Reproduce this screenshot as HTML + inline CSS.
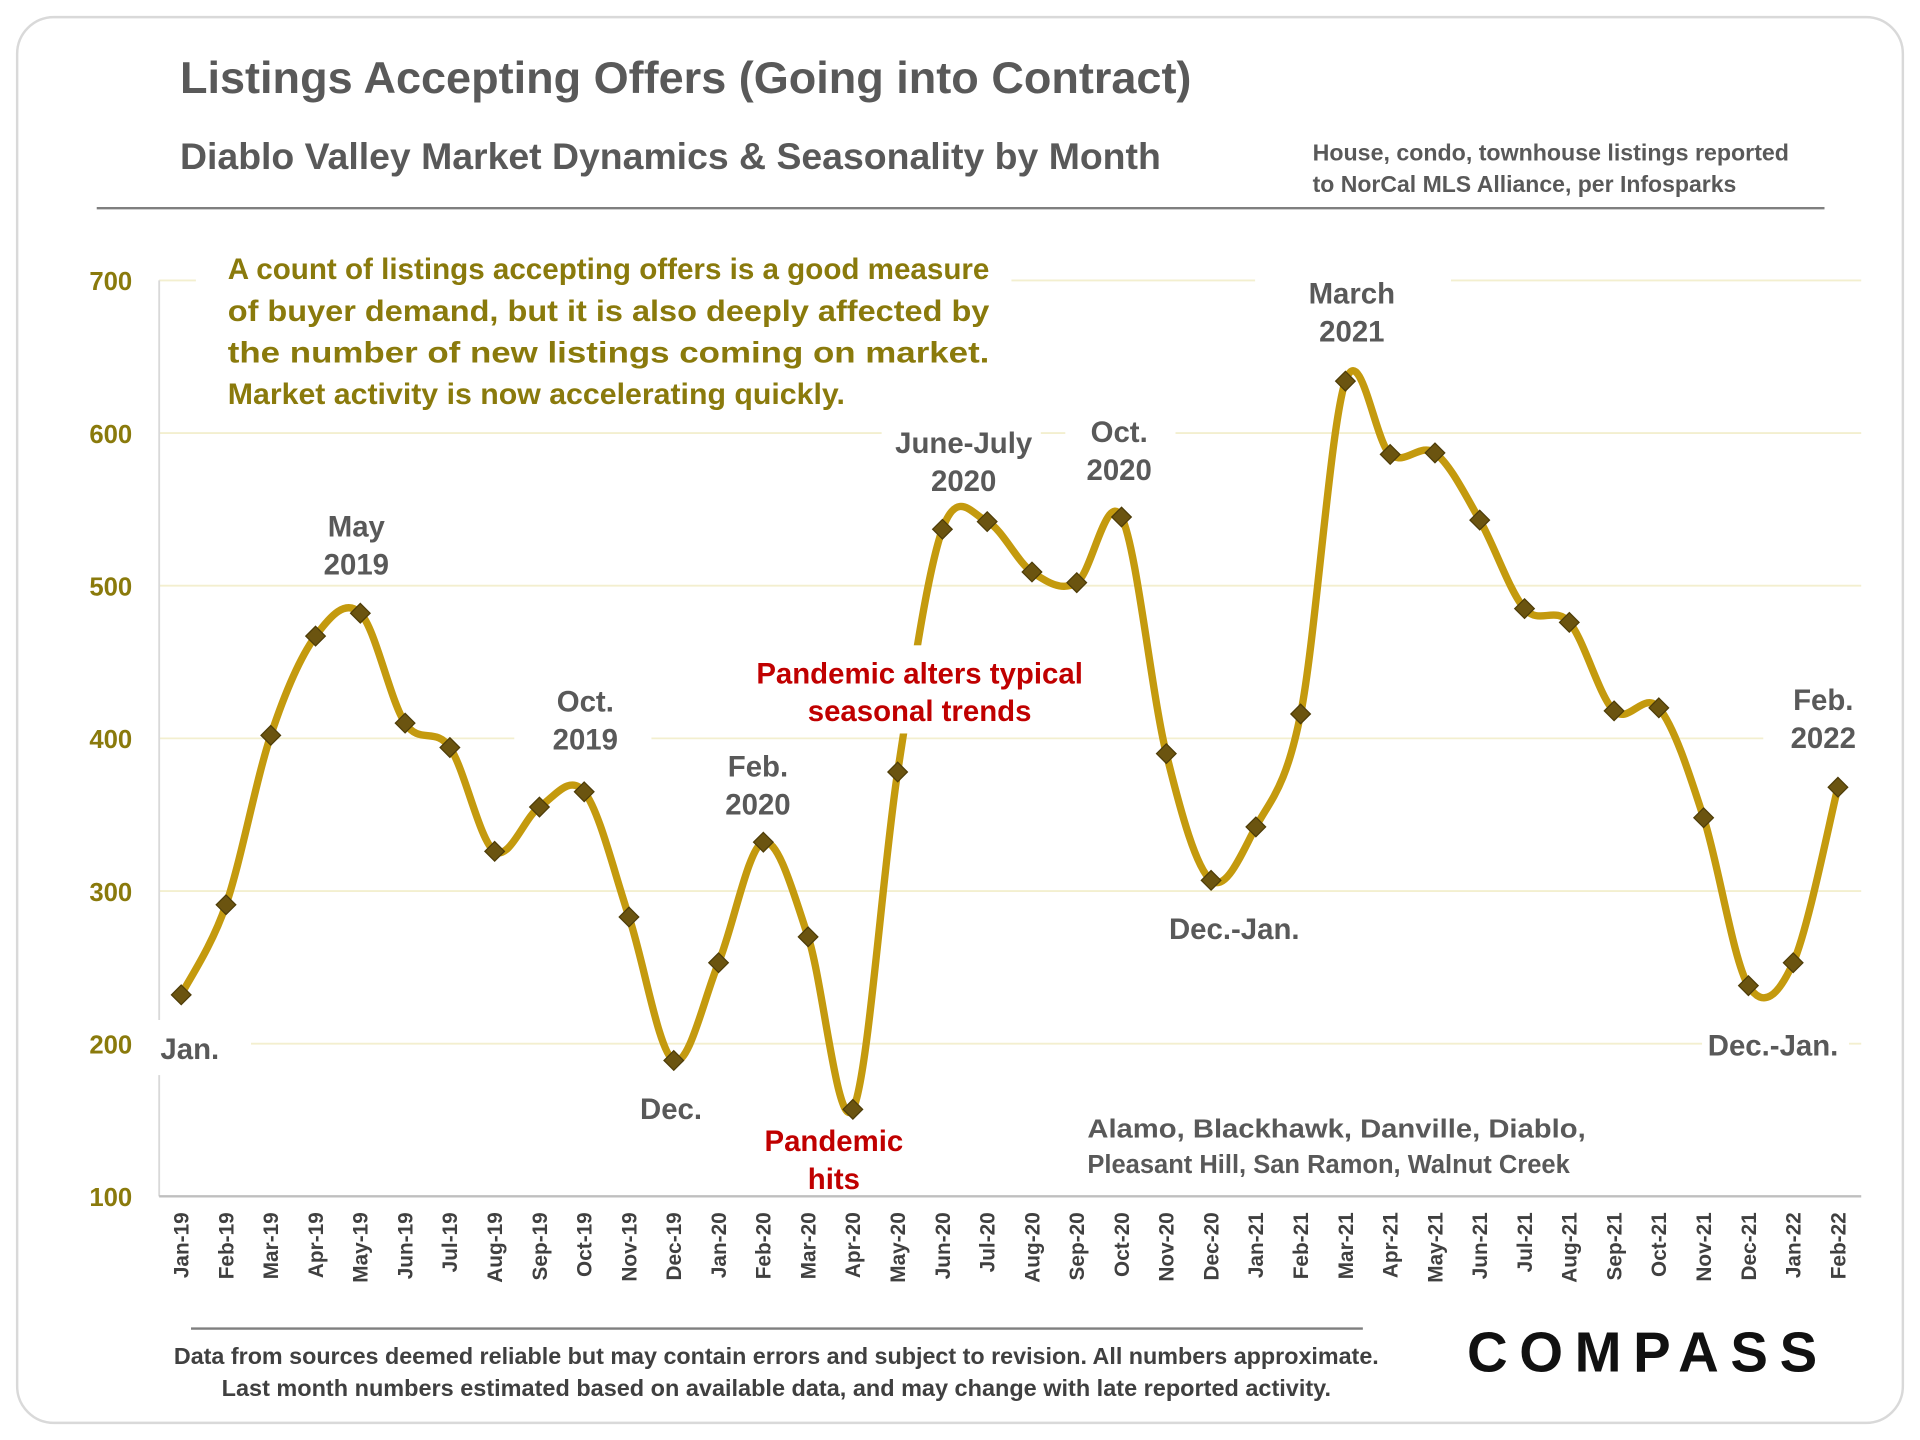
<!DOCTYPE html>
<html><head><meta charset="utf-8"><style>
html,body{margin:0;padding:0;background:#fff;}
svg{display:block;font-family:"Liberation Sans",sans-serif;font-weight:bold;}
</style></head><body>
<svg id="chart" width="1920" height="1440" viewBox="0 0 1568 1176" xmlns="http://www.w3.org/2000/svg">
<rect x="14" y="14" width="1540" height="1148" rx="30" fill="#fff" stroke="#d9d9d9" stroke-width="2"/>
<text x="147" y="76" font-size="36" fill="#595959" textLength="826" lengthAdjust="spacingAndGlyphs">Listings Accepting Offers (Going into Contract)</text>
<text x="147" y="138" font-size="30" fill="#595959" textLength="801" lengthAdjust="spacingAndGlyphs">Diablo Valley Market Dynamics &amp; Seasonality by Month</text>
<text x="1072" y="131" font-size="19" fill="#595959" textLength="389" lengthAdjust="spacingAndGlyphs">House, condo, townhouse listings reported</text>
<text x="1072" y="157" font-size="19" fill="#595959" textLength="346" lengthAdjust="spacingAndGlyphs">to NorCal MLS Alliance, per Infosparks</text>
<line x1="79" y1="170" x2="1490" y2="170" stroke="#7f7f7f" stroke-width="2"/>
<g id="grid"></g>
<g id="masks"></g>
<g id="series"></g>
<rect x="615" y="527" width="272" height="72" fill="#fff"/>
<g id="labels"></g>
<line x1="156" y1="1085" x2="1113" y2="1085" stroke="#7f7f7f" stroke-width="2"/>
<text x="634" y="1114" font-size="19" fill="#404040" text-anchor="middle" textLength="984" lengthAdjust="spacingAndGlyphs">Data from sources deemed reliable but may contain errors and subject to revision. All numbers approximate.</text>
<text x="634" y="1140" font-size="19" fill="#404040" text-anchor="middle" textLength="906" lengthAdjust="spacingAndGlyphs">Last month numbers estimated based on available data, and may change with late reported activity.</text>
<text x="1198" y="1120" font-size="46" fill="#111" font-weight="bold" textLength="286" lengthAdjust="spacing">COMPASS</text>
</svg>
<script>
const categories=["Jan-19","Feb-19","Mar-19","Apr-19","May-19","Jun-19","Jul-19","Aug-19","Sep-19","Oct-19","Nov-19","Dec-19","Jan-20","Feb-20","Mar-20","Apr-20","May-20","Jun-20","Jul-20","Aug-20","Sep-20","Oct-20","Nov-20","Dec-20","Jan-21","Feb-21","Mar-21","Apr-21","May-21","Jun-21","Jul-21","Aug-21","Sep-21","Oct-21","Nov-21","Dec-21","Jan-22","Feb-22"];
const values=[232,291,402,467,482,410,394,326,355,365,283,189,253,332,270,157,378,537,542,509,502,545,390,307,342,416,634,586,587,543,485,476,418,420,348,238,253,368];
const yTicks=[100,200,300,400,500,600,700];
const NS="http://www.w3.org/2000/svg";
const X0=148,X1=1501,Y0=977,Y1=229,VMIN=100,VMAX=700;
function xs(i){return X0+(X1-X0)*i/(categories.length-1);}
function ys(v){return Y0-(v-VMIN)/(VMAX-VMIN)*(Y0-Y1);}
function mk(tag,attrs,parent){const e=document.createElementNS(NS,tag);for(const k in attrs)e.setAttribute(k,attrs[k]);parent.appendChild(e);return e;}
const grid=document.getElementById('grid'),masks=document.getElementById('masks'),series=document.getElementById('series'),labels=document.getElementById('labels');
yTicks.forEach(t=>{
  if(t>VMIN){const l=mk('line',{x1:130,x2:1520,y1:ys(t),y2:ys(t),stroke:'#f3efcf','stroke-width':1.5},grid);
  
  }
  const tx=mk('text',{x:108,y:ys(t)+8,'font-size':21,fill:'#8a7a0c','text-anchor':'end'},grid);
  tx.textContent=t;
  
  
});
const ax=mk('line',{x1:130,y1:Y1,x2:130,y2:Y0,stroke:'#d9d9d9','stroke-width':1.5},grid);


const bx=mk('line',{x1:130,y1:Y0,x2:1520,y2:Y0,stroke:'#bfbfbf','stroke-width':2},grid);


categories.forEach((c,i)=>{
  const t=mk('text',{x:0,y:0,'font-size':17,fill:'#404040','text-anchor':'end',transform:`translate(${xs(i)+6},990) rotate(-90)`},grid);
  t.textContent=c;
  
  
});
[[160,205,666,130],[220,415,142,60],[420,560,112,60],[560,612,120,60],[720,345,130,60],[870,336,90,60],[1025,222,160,65],[1440,555,90,60],[125,833,80,45],[1390,840,120,35]].forEach(r=>{
  const m=mk('rect',{x:r[0],y:r[1],width:r[2],height:r[3],fill:'#fff'},masks);
  
  
});
const P=values.map((v,i)=>[xs(i),ys(v)]);
let d=`M${P[0][0]},${P[0][1]}`;
for(let i=0;i<P.length-1;i++){
  const p0=P[Math.max(0,i-1)],p1=P[i],p2=P[i+1],p3=P[Math.min(P.length-1,i+2)];
  const k=1/6;
  d+=` C${p1[0]+(p2[0]-p0[0])*k},${p1[1]+(p2[1]-p0[1])*k} ${p2[0]-(p3[0]-p1[0])*k},${p2[1]-(p3[1]-p1[1])*k} ${p2[0]},${p2[1]}`;
}
const line=mk('path',{d:d,fill:'none',stroke:'#c49a0e','stroke-width':6,'stroke-linejoin':'round'},series);


P.forEach((p,i)=>{
  const s=8;
  const m=mk('path',{d:`M${p[0]},${p[1]-s} L${p[0]+s},${p[1]} L${p[0]},${p[1]+s} L${p[0]-s},${p[1]} Z`,fill:'#6b5410',stroke:'#4d3c08','stroke-width':1},series);
  
  
});
const L=[
 ["May",291,438,'#595959',24,'label-may-2019'],["2019",291,469,'#595959',24,'label-may-2019-year'],
 ["Oct.",478,581,'#595959',24,'label-oct-2019'],["2019",478,612,'#595959',24,'label-oct-2019-year'],
 ["Feb.",619,634,'#595959',24,'label-feb-2020'],["2020",619,665,'#595959',24,'label-feb-2020-year'],
 ["June-July",787,370,'#595959',24,'label-june-july-2020'],["2020",787,401,'#595959',24,'label-june-july-year'],
 ["Oct.",914,361,'#595959',24,'label-oct-2020'],["2020",914,392,'#595959',24,'label-oct-2020-year'],
 ["March",1104,248,'#595959',24,'label-march-2021'],["2021",1104,279,'#595959',24,'label-march-2021-year'],
 ["Feb.",1489,580,'#595959',24,'label-feb-2022'],["2022",1489,611,'#595959',24,'label-feb-2022-year'],
 ["Jan.",155,865,'#595959',24,'label-jan'],["Dec.",548,914,'#595959',24,'label-dec'],
 ["Dec.-Jan.",1008,767,'#595959',24,'label-dec-jan-2021'],["Dec.-Jan.",1448,862,'#595959',24,'label-dec-jan-2022'],
 ["Pandemic alters typical",751,558,'#c00000',24,'label-pandemic-alters'],["seasonal trends",751,589,'#c00000',24,'label-seasonal-trends'],
 ["Pandemic",681,940,'#c00000',24,'label-pandemic'],["hits",681,971,'#c00000',24,'label-hits']
];
L.forEach(a=>{
  const t=mk('text',{x:a[1],y:a[2],'font-size':a[4],fill:a[3],'text-anchor':'middle'},labels);
  t.textContent=a[0];
  
  
});
const A=[["A count of listings accepting offers is a good measure",228,622],["of buyer demand, but it is also deeply affected by",262,622],["the number of new listings coming on market.",296,622],["Market activity is now accelerating quickly.",330,504]];
A.forEach((a,i)=>{
  const t=mk('text',{x:186,y:a[1],'font-size':24,fill:'#8a7a0c',textLength:a[2],lengthAdjust:'spacingAndGlyphs'},labels);
  t.textContent=a[0];
  
  
});
const R=[["Alamo,   Blackhawk,   Danville,   Diablo,",929,407],["Pleasant Hill, San Ramon, Walnut Creek",958,394]];
R.forEach((a,i)=>{
  const t=mk('text',{x:888,y:a[1],'font-size':21,fill:'#595959',textLength:a[2],lengthAdjust:'spacingAndGlyphs','xml:space':'preserve'},labels);
  t.textContent=a[0];
  
  
});
</script>
</body></html>
